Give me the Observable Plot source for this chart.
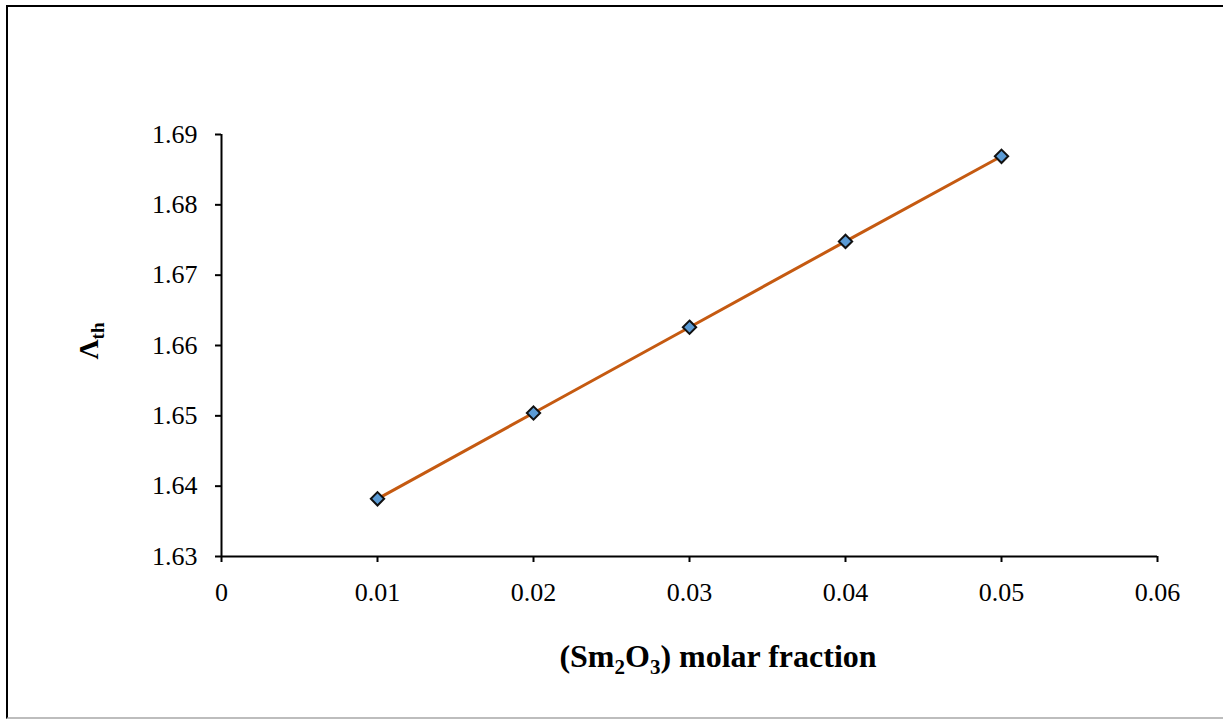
<!DOCTYPE html>
<html>
<head>
<meta charset="utf-8">
<script src="https://cdn.jsdelivr.net/npm/d3@7"></script>
<script src="https://cdn.jsdelivr.net/npm/@observablehq/plot@0.6"></script>
<style>
  html, body { margin: 0; padding: 0; background: #fff; }
  #wrap { position: relative; width: 1223px; height: 719px; overflow: hidden; }
  #frame { position: absolute; left: 6px; top: 5px; width: 1230px; height: 710px;
           border-left: 2px solid #000; border-top: 2px solid #000; border-bottom: 2px solid #bdbdbd; }
  #wrap svg { position: absolute; left: 0; top: 0; }
  #wrap svg, #wrap svg text { font-family: "Liberation Serif", "Times New Roman", serif !important; }
  #wrap svg g[aria-label$="tick label"] text { font-size: 26px !important; }
</style>
</head>
<body>
<div id="wrap"><div id="frame"></div></div>
<script>
const molarFraction = [0.01, 0.02, 0.03, 0.04, 0.05];
const lambdaTh = [1.6382, 1.6504, 1.6626, 1.6748, 1.6869];
const xTicks = [0, 0.01, 0.02, 0.03, 0.04, 0.05, 0.06];
const yTicks = [1.63, 1.64, 1.65, 1.66, 1.67, 1.68, 1.69];

const data = molarFraction.map((x, i) => ({x, y: lambdaTh[i]}));
const serif = "Liberation Serif";

const chart = Plot.plot({
  width: 1223,
  height: 719,
  marginLeft: 221,
  marginRight: 66,
  marginTop: 134,
  marginBottom: 163,
  style: {fontFamily: serif, fontSize: "26px", background: "transparent", overflow: "visible"},
  x: {domain: [0, 0.06]},
  y: {domain: [1.63, 1.69]},
  marks: [
    Plot.axisX({ticks: xTicks, tickFormat: d => d === 0 ? "0" : d.toFixed(2), tickSize: 6, tickPadding: 20, strokeWidth: 2, stroke: "#000", fill: "#000", fontSize: 26, fontFamily: serif, label: null}),
    Plot.axisY({ticks: yTicks, tickFormat: d => d.toFixed(2), tickSize: 6, tickPadding: 18, strokeWidth: 2, stroke: "#000", fill: "#000", fontSize: 26, fontFamily: serif, label: null}),
    Plot.ruleY([1.63], {stroke: "#000", strokeWidth: 2}),
    Plot.ruleX([0], {stroke: "#000", strokeWidth: 2}),
    Plot.line(data, {x: "x", y: "y", stroke: "#c55a11", strokeWidth: 3}),
    Plot.dot(data, {x: "x", y: "y", symbol: "diamond2", r: 6, fill: "#5b9bd5", stroke: "#111", strokeWidth: 2})
  ]
});

const svg = d3.select(chart);
// x-axis title with subscripts
const xt = svg.append("text")
  .attr("x", 718).attr("y", 667)
  .attr("text-anchor", "middle")
  .attr("style", "font-family:'Liberation Serif',serif;font-weight:bold;font-size:32px;fill:#000");
xt.append("tspan").text("(Sm");
xt.append("tspan").attr("style", "font-size:21px").attr("dy", 7).text("2");
xt.append("tspan").attr("dy", -7).text("O");
xt.append("tspan").attr("style", "font-size:21px").attr("dy", 7).text("3");
xt.append("tspan").attr("dy", -7).text(") molar fraction");

// y-axis title
const yt = svg.append("text")
  .attr("transform", "translate(98,341) rotate(-90)")
  .attr("text-anchor", "middle")
  .attr("style", "font-family:'Liberation Serif',serif;font-weight:bold;font-size:28px;fill:#000");
yt.append("tspan").text("\u039B");
yt.append("tspan").attr("style", "font-size:19px").attr("dy", 6).text("th");

document.getElementById("wrap").appendChild(chart);
</script>
</body>
</html>
